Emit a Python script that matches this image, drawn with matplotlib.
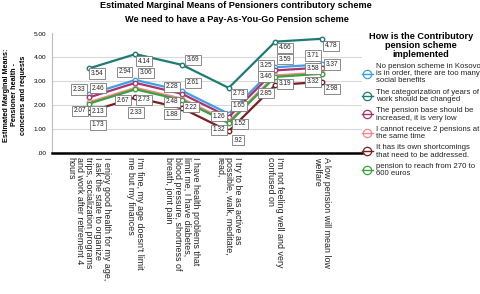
import matplotlib
matplotlib.use("Agg")
import matplotlib.pyplot as plt
from matplotlib.lines import Line2D

plt.rcParams['font.family'] = ['Liberation Sans', 'DejaVu Sans']

# ---------------- data ----------------
categories = [
    "I enjoy good health for my age,\nI ask the state to organize\ntrips, socialization programs\nand work after retirement 4\nhours",
    "I'm fine, my age doesn't limit\nme but my finances",
    "I have health problems that\nlimit me, I have diabetes,\nblood pressure, shortness of\nbreath, joint pain",
    "I try to be as active as\npossible, walk, meditate,\nread,",
    "I'm not feeling well and very\nconfused on",
    "A low pension will mean low\nwelfare",
]

series_names = [
    "No pension scheme in Kosovo\nis in order, there are too many\nsocial benefits",
    "The categorization of years of\nwork should be changed",
    "The pension base should be\nincreased, it is very low",
    "I cannot receive 2 pensions at\nthe same time",
    "It has its own shortcomings\nthat need to be addressed.",
    "pension to reach from 270 to\n600 euros",
]

blue_vals = [2.46, 3.06, 2.61, 1.65, 3.59, 3.71]
teal_vals = [3.54, 4.14, 3.69, 2.73, 4.66, 4.78]
purple_vals = [2.33, 2.94, 2.48, 1.52, 3.46, 3.58]
pink_vals = [2.13, 2.73, 2.28, 1.32, 3.25, 3.37]
maroon_vals = [1.73, 2.33, 1.88, 0.92, 2.85, 2.98]
green_vals = [2.07, 2.67, 2.22, 1.26, 3.19, 3.32]

series_values = [blue_vals, teal_vals, purple_vals, pink_vals, maroon_vals, green_vals]
colors = ['#3F9EE8', '#1E7B73', '#A8346A', '#F2888A', '#7B1E22', '#3AA23C']

ytick_vals = [0, 1, 2, 3, 4, 5]
ytick_labels = ['.00', '1.00', '2.00', '3.00', '4.00', '5.00']

# label offsets (pixels) per series per category: (dx, dy-up)
label_offsets = [
    [(9, 6), (11, 7), (11, 8), (10, 8), (10, 8), (-9, 9)],          # blue
    [(8, -5), (9, -7), (11, 5), (10, -6), (10, -6), (9, -7)],      # teal
    [(-10, 8), (-11, 11), (-10, -8), (11, -7), (-9, -6), (-9, -1)],  # purple
    [(9, -9), (9, -12), (-10, 12), (-10, -8), (-9, 10), (10, 8)],  # pink
    [(9, -13), (1, -15), (-10, -6), (9, -9), (-9, -8), (10, -7)],  # maroon
    [(-9, -7), (-12, -11), (9, -7), (-10, 7), (10, -7), (-9, -8)],  # green
]

def fmt(v):
    s = f"{v:.2f}"
    return s[1:] if s.startswith("0") else s

# ---------------- figure ----------------
fig = plt.figure(figsize=(4.8, 2.94), dpi=100)
W, H = 480, 294
left, right, top, bottom = 52, 362, 33.5, 153.3
ax = fig.add_axes([left / W, 1 - bottom / H, (right - left) / W, (bottom - top) / H])

x = list(range(len(categories)))
for vals, c in zip(series_values, colors):
    ax.plot(x, vals, color=c, lw=1.6, marker='o', markersize=3.2,
            markerfacecolor='white', markeredgecolor=c, markeredgewidth=1.0,
            zorder=3, clip_on=False)

for vals, offs in zip(series_values, label_offsets):
    for xi, (v, (dx, dy)) in enumerate(zip(vals, offs)):
        ax.annotate(fmt(v), (xi, v), xytext=(dx, dy), textcoords='offset pixels',
                    ha='center', va='center', fontsize=4.7, color='#222222',
                    bbox=dict(boxstyle='square,pad=0.25', fc='white', ec='#777777', lw=0.6),
                    zorder=5, annotation_clip=False)

ax.set_xlim(-0.79, 5.86)
ax.set_ylim(0, 5)
ax.set_yticks(ytick_vals)
ax.set_yticklabels(ytick_labels, fontsize=4.6)
ax.set_xticks(x)
ax.set_xticklabels(categories, rotation=-90, fontsize=6.4, ha='center', va='top',
                   multialignment='left', color='#222222', linespacing=1.0)
ax.tick_params(axis='both', length=0, pad=3)
ax.tick_params(axis='y', pad=4)

ax.grid(axis='y', color='#d9d9d9', lw=0.8)
ax.set_axisbelow(True)
for s in ['top', 'right']:
    ax.spines[s].set_visible(False)
ax.spines['left'].set_color('#bbbbbb')
ax.spines['left'].set_linewidth(0.8)
ax.spines['bottom'].set_color('black')
ax.spines['bottom'].set_linewidth(1.8)

fig.text(236 / W, 1 - 6 / H, "Estimated Marginal Means of Pensioners contributory scheme",
         ha='center', va='center', fontsize=6.6, fontweight='bold')
fig.text(237 / W, 1 - 20 / H, "We need to have a Pay-As-You-Go Pension scheme",
         ha='center', va='center', fontsize=6.6, fontweight='bold')

fig.text(15 / W, 1 - 95 / H, "Estimated Marginal Means:\nPensioner health -\nconcerns and requests",
         ha='center', va='center', rotation=90, fontsize=5.2, fontweight='bold',
         multialignment='center', linespacing=1.3)

# legend title
fig.text(421 / W, 1 - 45 / H, "How is the Contributory\npension scheme\nimplemented",
         ha='center', va='center', fontsize=6.6, fontweight='bold',
         multialignment='center', linespacing=1.0)

handles = [Line2D([0], [0], color=c, lw=1.0, marker='o', markersize=6,
                  markerfacecolor='none', markeredgecolor=c, markeredgewidth=0.9)
           for c in colors]
leg = fig.legend(handles, series_names, loc='upper left',
                 bbox_to_anchor=(362 / W, 1 - 63 / H),
                 fontsize=5.6, frameon=False, handlelength=1.4, handletextpad=0.35,
                 labelspacing=0.55, borderaxespad=0, borderpad=0)
for t in leg.get_texts():
    t.set_color('#222222')
    t.set_linespacing(1.05)

fig.savefig("out.png", dpi=100)
